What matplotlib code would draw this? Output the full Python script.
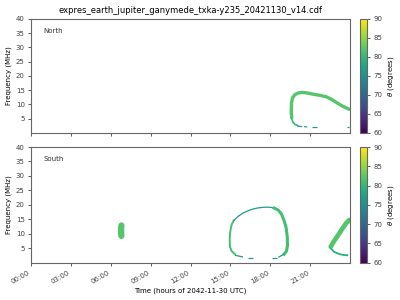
import numpy as np
import matplotlib
matplotlib.use("Agg")
import matplotlib.pyplot as plt
from matplotlib import cm, colors

title = "expres_earth_jupiter_ganymede_txka-y235_20421130_v14.cdf"
hour_ticks = [0, 3, 6, 9, 12, 15, 18, 21]
hour_labels = ["00:00", "03:00", "06:00", "09:00", "12:00", "15:00", "18:00", "21:00"]
freq_ticks = [5, 10, 15, 20, 25, 30, 35, 40]
theta_ticks = [60, 65, 70, 75, 80, 85, 90]

# North hemisphere emission (hours, MHz, theta in degrees)
north_arc_t = [19.62, 19.58, 19.6, 19.68, 19.85, 20.1, 20.4, 20.8, 21.2, 21.7, 22.2, 22.6, 23.0, 23.4, 23.8, 24.0]
north_arc_f = [5.0, 7.5, 10.5, 12.3, 13.4, 14.0, 14.2, 14.0, 13.6, 13.2, 12.7, 11.8, 10.6, 9.5, 8.6, 8.1]
north_arc_theta = 82
north_low_t = [19.62, 19.7, 19.85, 20.05]
north_low_f = [5.0, 3.8, 3.0, 2.6]
north_low_theta = 80
north_dash_t = [[20.05, 20.4], [20.55, 20.78], [21.15, 21.5], [23.78, 23.95]]
north_dash_f = [[2.4, 2.2], [2.2, 2.1], [2.1, 2.1], [2.0, 2.0]]
north_dash_theta = 76

# South hemisphere emission
south_blob_t = [6.8, 6.78, 6.78, 6.8]
south_blob_f = [9.3, 10.3, 11.8, 12.9]
south_blob_theta = 82

south_left_t = [15.35, 15.1, 14.97, 14.95, 14.98, 15.08, 15.25]
south_left_f = [3.0, 4.0, 5.5, 8.0, 10.5, 13.0, 14.6]
south_left_theta = 81
south_top_t = [15.25, 15.6, 16.0, 16.5, 17.0, 17.5, 18.0, 18.3]
south_top_f = [14.6, 16.1, 17.3, 18.3, 18.9, 19.2, 19.2, 18.9]
south_top_theta = 76
south_right_t = [18.3, 18.6, 18.85, 19.05, 19.2, 19.28, 19.3, 19.22, 19.05]
south_right_f = [18.9, 18.2, 16.8, 14.5, 12.0, 9.0, 6.0, 4.0, 3.0]
south_right_theta = 81
south_dash_t = [[15.35, 15.95], [16.33, 16.7], [18.13, 18.5], [18.6, 19.05]]
south_dash_f = [[2.6, 2.0], [1.8, 1.8], [1.8, 1.8], [1.9, 3.0]]
south_dash_theta = 76

south_cres_t = [22.55, 22.8, 23.1, 23.4, 23.7, 23.95]
south_cres_f = [5.6, 7.5, 9.5, 11.6, 13.6, 14.8]
south_cres_theta = 82
south_tail_t = [22.55, 22.8, 23.2, 23.5, 23.8]
south_tail_f = [5.0, 3.8, 3.0, 2.7, 2.6]
south_tail_theta = 79

norm = colors.Normalize(vmin=60, vmax=90)
cmap = plt.get_cmap("viridis")

def col(th):
    return cmap(norm(th))

fs = 5
fig = plt.figure(figsize=(4, 3), dpi=100)
ax1 = fig.add_axes([0.0775, 0.557, 0.7975, 0.38])
ax2 = fig.add_axes([0.0775, 0.124, 0.7975, 0.386])
cax1 = fig.add_axes([0.901, 0.557, 0.016, 0.38])
cax2 = fig.add_axes([0.901, 0.124, 0.016, 0.386])

# north
ax1.plot(north_arc_t, north_arc_f, color=col(north_arc_theta), lw=2.4, solid_capstyle="butt")
ax1.plot(north_low_t, north_low_f, color=col(north_low_theta), lw=1.2)
for t, f in zip(north_dash_t, north_dash_f):
    ax1.plot(t, f, color=col(north_dash_theta), lw=0.9, solid_capstyle="butt")

# south
ax2.plot(south_blob_t, south_blob_f, color=col(south_blob_theta), lw=4.5, solid_capstyle="round")
ax2.plot(south_left_t, south_left_f, color=col(south_left_theta), lw=1.4)
ax2.plot(south_top_t, south_top_f, color=col(south_top_theta), lw=0.9)
ax2.plot(south_right_t, south_right_f, color=col(south_right_theta), lw=2.2)
for t, f in zip(south_dash_t, south_dash_f):
    ax2.plot(t, f, color=col(south_dash_theta), lw=0.9, solid_capstyle="butt")
ax2.plot(south_cres_t, south_cres_f, color=col(south_cres_theta), lw=3.4, solid_capstyle="round")
ax2.plot(south_tail_t, south_tail_f, color=col(south_tail_theta), lw=1.3)

for ax, name in [(ax1, "North"), (ax2, "South")]:
    ax.set_xlim(0, 24)
    ax.set_ylim(0, 40)
    ax.set_yticks(freq_ticks)
    ax.set_xticks(hour_ticks)
    ax.set_ylabel("Frequency (MHz)", fontsize=fs, labelpad=3)
    ax.tick_params(labelsize=fs, length=2.5, width=0.6, colors="0.25", pad=2)
    for s in ax.spines.values():
        s.set_color("0.4")
        s.set_linewidth(0.8)
    ax.text(0.038, 0.88, name, transform=ax.transAxes, fontsize=fs, color="0.2")

ax1.set_xticklabels([])
ax2.set_xticklabels(hour_labels, rotation=30, ha="right")
ax2.set_xlabel("Time (hours of 2042-11-30 UTC)", fontsize=fs, labelpad=2)
ax1.set_title(title, fontsize=6, pad=4)

sm = cm.ScalarMappable(norm=norm, cmap=cmap)
for cax in [cax1, cax2]:
    cb = fig.colorbar(sm, cax=cax, ticks=theta_ticks)
    cb.ax.tick_params(labelsize=fs, length=2.5, width=0.6, colors="0.25", pad=2)
    cb.set_label("$\\theta$ (degrees)", fontsize=fs, labelpad=3)
    cb.outline.set_edgecolor("0.4")
    cb.outline.set_linewidth(0.8)

fig.savefig("out.png", dpi=100)
